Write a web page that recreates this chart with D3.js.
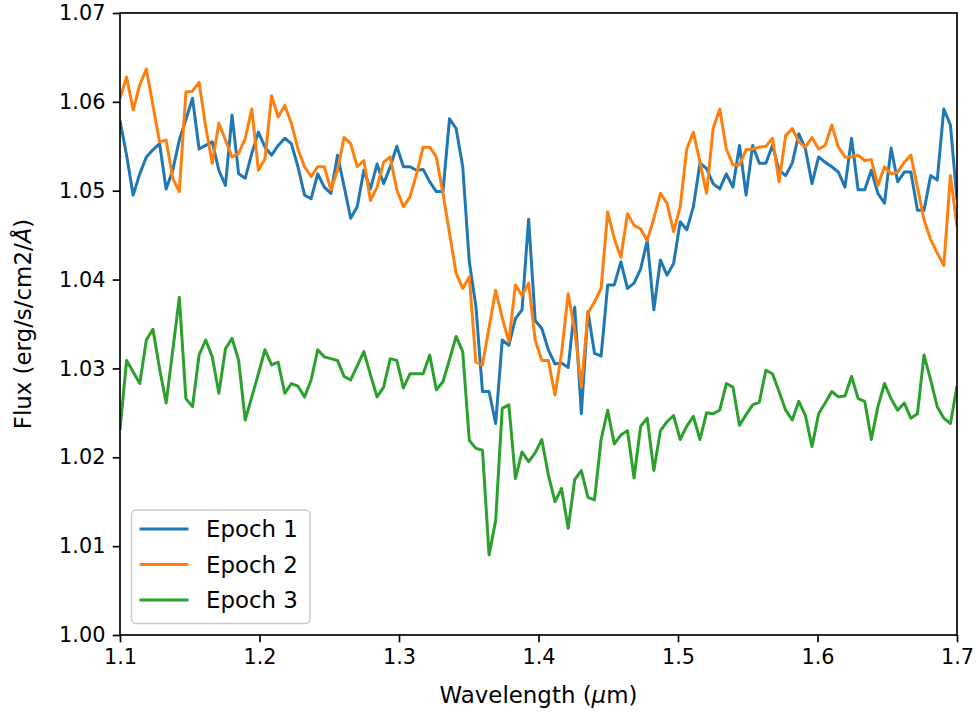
<!DOCTYPE html>
<html lang="en">
<head>
<meta charset="UTF-8">
<title>Flux by epoch</title>
<script src="https://d3js.org/d3.v7.min.js"></script>
<style>
  body { margin: 0; background: #fff; }
  svg text { font-family: "DejaVu Sans", sans-serif; fill: #000; }
  .tick text { font-size: 20.8px; }
  .axis-label, .legend text { font-size: 22.9px; }
</style>
</head>
<body>
<div id="chart"></div>
<script>
// wavelength grid (um), 128 samples from 1.1 to 1.7
const wavelength = d3.range(128).map(i => 1.1 + i * 0.6 / 127);

const epoch1 = [
  1.0579,1.0540,1.0495,1.0519,1.0538,1.0546,1.0553,1.0502,1.0523,1.0557,
  1.0580,1.0604,1.0547,1.0551,1.0555,1.0523,1.0506,1.0585,1.0519,1.0514,
  1.0542,1.0566,1.0549,1.0540,1.0551,1.0559,1.0553,1.0527,1.0495,1.0491,
  1.0519,1.0504,1.0497,1.0540,1.0505,1.0469,1.0482,1.0523,1.0502,1.0530,
  1.0508,1.0527,1.0550,1.0527,1.0527,1.0523,1.0524,1.0510,1.0499,1.0499,
  1.0581,1.0570,1.0527,1.0420,1.0370,1.0274,1.0274,1.0238,1.0332,1.0326,
  1.0356,1.0366,1.0468,1.0354,1.0345,1.0321,1.0305,1.0306,1.0301,1.0369,
  1.0249,1.0364,1.0317,1.0314,1.0394,1.0394,1.0420,1.0390,1.0396,1.0412,
  1.0444,1.0366,1.0422,1.0405,1.0418,1.0465,1.0456,1.0482,1.0531,1.0525,
  1.0508,1.0502,1.0519,1.0504,1.0551,1.0495,1.0551,1.0531,1.0531,1.0551,
  1.0523,1.0517,1.0531,1.0564,1.0547,1.0508,1.0538,1.0532,1.0527,1.0521,
  1.0504,1.0559,1.0501,1.0501,1.0523,1.0497,1.0486,1.0548,1.0510,1.0521,
  1.0521,1.0478,1.0478,1.0517,1.0512,1.0592,1.0574,1.0490
];

const epoch2 = [
  1.0604,1.0628,1.0591,1.0619,1.0637,1.0596,1.0555,1.0557,1.0514,1.0499,
  1.0611,1.0612,1.0622,1.0572,1.0531,1.0576,1.0557,1.0538,1.0542,1.0559,
  1.0592,1.0523,1.0536,1.0607,1.0583,1.0596,1.0576,1.0547,1.0527,1.0516,
  1.0527,1.0527,1.0501,1.0523,1.0560,1.0553,1.0527,1.0534,1.0489,1.0504,
  1.0532,1.0538,1.0501,1.0482,1.0493,1.0519,1.0549,1.0549,1.0538,1.0497,
  1.0452,1.0407,1.0390,1.0403,1.0307,1.0304,1.0346,1.0388,1.0357,1.0330,
  1.0394,1.0382,1.0396,1.0332,1.0309,1.0309,1.0270,1.0317,1.0384,1.0343,
  1.0279,1.0362,1.0375,1.0390,1.0476,1.0446,1.0425,1.0474,1.0461,1.0457,
  1.0444,1.0469,1.0497,1.0486,1.0454,1.0482,1.0547,1.0566,1.0532,1.0497,
  1.0570,1.0592,1.0547,1.0529,1.0529,1.0546,1.0547,1.0549,1.0550,1.0559,
  1.0510,1.0562,1.0570,1.0555,1.0549,1.0560,1.0547,1.0551,1.0574,1.0549,
  1.0538,1.0538,1.0540,1.0534,1.0535,1.0506,1.0527,1.0519,1.0521,1.0532,
  1.0540,1.0504,1.0467,1.0445,1.0430,1.0416,1.0517,1.0460
];

const epoch3 = [
  1.0231,1.0309,1.0296,1.0283,1.0332,1.0344,1.0300,1.0261,1.0320,1.0380,
  1.0266,1.0257,1.0315,1.0332,1.0313,1.0272,1.0322,1.0334,1.0309,1.0242,
  1.0268,1.0294,1.0321,1.0304,1.0307,1.0272,1.0283,1.0280,1.0268,1.0287,
  1.0321,1.0313,1.0311,1.0309,1.0291,1.0287,1.0303,1.0319,1.0293,1.0268,
  1.0279,1.0311,1.0309,1.0278,1.0294,1.0294,1.0294,1.0315,1.0276,1.0285,
  1.0310,1.0336,1.0319,1.0219,1.0210,1.0208,1.0090,1.0129,1.0255,1.0259,
  1.0176,1.0206,1.0195,1.0205,1.0220,1.0180,1.0150,1.0165,1.0120,1.0175,
  1.0185,1.0155,1.0152,1.0220,1.0253,1.0215,1.0225,1.0230,1.0177,1.0235,
  1.0244,1.0185,1.0230,1.0240,1.0247,1.0220,1.0235,1.0246,1.0220,1.0250,
  1.0249,1.0253,1.0283,1.0279,1.0236,1.0248,1.0259,1.0262,1.0298,1.0294,
  1.0274,1.0253,1.0242,1.0263,1.0247,1.0212,1.0249,1.0261,1.0274,1.0268,
  1.0269,1.0291,1.0266,1.0263,1.0220,1.0257,1.0283,1.0266,1.0253,1.0261,
  1.0244,1.0249,1.0315,1.0287,1.0257,1.0244,1.0238,1.0280
];

const seriesNames = ["Epoch 1", "Epoch 2", "Epoch 3"];
const seriesColors = ["#1f77b4", "#ff7f0e", "#2ca02c"];
const xTicks = [1.1, 1.2, 1.3, 1.4, 1.5, 1.6, 1.7];
const yTicks = [1.00, 1.01, 1.02, 1.03, 1.04, 1.05, 1.06, 1.07];

const W = 977, H = 717;
const plot = {left: 120, right: 957, top: 13, bottom: 635};

const svg = d3.select("#chart").append("svg")
    .attr("width", W)
    .attr("height", H);

const x = d3.scaleLinear().domain([1.1, 1.7]).range([plot.left, plot.right]);
const y = d3.scaleLinear().domain([1.00, 1.07]).range([plot.bottom, plot.top]);

svg.append("clipPath").attr("id", "plotclip")
  .append("rect")
    .attr("x", plot.left).attr("y", plot.top)
    .attr("width", plot.right - plot.left)
    .attr("height", plot.bottom - plot.top);

const series = [epoch1, epoch2, epoch3].map((vals, k) => ({
  name: seriesNames[k],
  color: seriesColors[k],
  points: vals.map((v, i) => [wavelength[i], v])
}));

const line = d3.line().x(d => x(d[0])).y(d => y(d[1]));

svg.append("g").attr("clip-path", "url(#plotclip)")
  .selectAll("path")
  .data(series)
  .enter().append("path")
    .attr("d", d => line(d.points))
    .attr("fill", "none")
    .attr("stroke", d => d.color)
    .attr("stroke-width", 3)
    .attr("stroke-linejoin", "round");

// axes
const xAxis = svg.append("g")
    .attr("transform", "translate(0," + plot.bottom + ")")
    .call(d3.axisBottom(x).tickValues(xTicks).tickFormat(d3.format(".1f"))
      .tickSize(7.3).tickPadding(7.3));
const yAxis = svg.append("g")
    .attr("transform", "translate(" + plot.left + ",0)")
    .call(d3.axisLeft(y).tickValues(yTicks).tickFormat(d3.format(".2f"))
      .tickSize(7.3).tickPadding(7.3));
[xAxis, yAxis].forEach(g => {
  g.select(".domain").remove();
  g.selectAll(".tick line").attr("stroke", "#000").attr("stroke-width", 1.67);
  g.attr("font-family", null).attr("font-size", null);
});

svg.append("rect")
    .attr("x", plot.left).attr("y", plot.top)
    .attr("width", plot.right - plot.left)
    .attr("height", plot.bottom - plot.top)
    .attr("fill", "none")
    .attr("stroke", "#000")
    .attr("stroke-width", 1.67);

// axis labels
const xl = svg.append("text")
    .attr("class", "axis-label")
    .attr("x", (plot.left + plot.right) / 2)
    .attr("y", 703)
    .attr("text-anchor", "middle");
xl.append("tspan").text("Wavelength (");
xl.append("tspan").attr("font-style", "italic").text("\u03bc");
xl.append("tspan").text("m)");

const yl = svg.append("text")
    .attr("class", "axis-label")
    .attr("transform", "translate(23," + (plot.top + plot.bottom) / 2 + ") rotate(-90)")
    .attr("text-anchor", "middle")
    .attr("dy", "0.35em");
yl.append("tspan").text("Flux (erg/s/cm2/");
yl.append("tspan").attr("font-style", "italic").text("\u00c5");
yl.append("tspan").text(")");

// legend
const legend = svg.append("g").attr("class", "legend");
legend.append("rect")
    .attr("x", 131.5).attr("y", 510)
    .attr("width", 178.5).attr("height", 113.5)
    .attr("rx", 4.5)
    .attr("fill", "#fff").attr("fill-opacity", 0.8)
    .attr("stroke", "#cccccc").attr("stroke-width", 1.5);

const rows = legend.selectAll(".row")
    .data(series)
  .enter().append("g")
    .attr("class", "row")
    .attr("transform", (d, i) => "translate(0," + (529 + i * 35.5) + ")");
rows.append("line")
    .attr("x1", 141).attr("x2", 187)
    .attr("stroke", d => d.color)
    .attr("stroke-width", 3)
    .attr("stroke-linecap", "square");
rows.append("text")
    .attr("x", 206)
    .attr("dy", "0.35em")
    .text(d => d.name);
</script>
</body>
</html>
